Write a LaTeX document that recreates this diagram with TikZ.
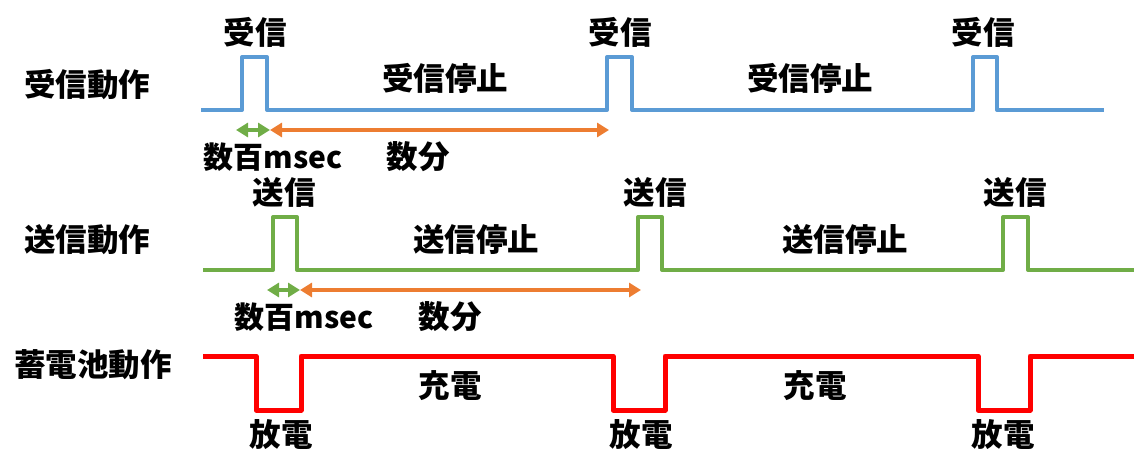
\documentclass[tikz,border=0pt]{standalone}
\usepackage{fontspec}
\setmainfont{Noto Sans CJK JP}
\usetikzlibrary{arrows.meta}
\definecolor{rxblue}{HTML}{5B9BD5}
\definecolor{txgreen}{HTML}{70AD47}
\definecolor{arrorange}{HTML}{ED7D31}
\definecolor{batred}{HTML}{FF0000}
\tikzset{
  lbl/.style={font=\fontsize{31.5}{34}\selectfont\bfseries, text=black, inner sep=0pt},
  msl/.style={lbl, font=\fontsize{30}{33}\selectfont\bfseries},
  wave/.style={line width=4pt, line join=round},
  dim/.style={line width=3.5pt, {Triangle[width=14pt,length=12pt]}-{Triangle[width=14pt,length=12pt]}},
}
\begin{document}
\begin{tikzpicture}[x=1pt,y=-1pt]
\useasboundingbox (0,0) rectangle (1134,449);
% waveforms
\draw[wave, rxblue] (201,110) -- (242,110) -- (242,57) -- (267,57) -- (267,110) -- (607,110) -- (607,57) -- (632,57) -- (632,110) -- (973,110) -- (973,57) -- (997,57) -- (997,110) -- (1104,110);
\draw[wave, txgreen] (203,270) -- (273,270) -- (273,217) -- (297,217) -- (297,270) -- (638,270) -- (638,217) -- (662,217) -- (662,270) -- (1003,270) -- (1003,217) -- (1028,217) -- (1028,270) -- (1134,270);
\draw[wave, batred, line width=5pt] (203,356) -- (256,356) -- (256,410) -- (301,410) -- (301,356) -- (613,356) -- (613,410) -- (665,410) -- (665,356) -- (978,356) -- (978,410) -- (1030,410) -- (1030,356) -- (1134,356);
% arrow end points
\coordinate (a1) at (236,130);
\coordinate (a2) at (270,130);
\coordinate (a3) at (609,130);
\coordinate (b1) at (267,290);
\coordinate (b2) at (300,290);
\coordinate (b3) at (641,290);
\draw[dim, txgreen] (a1) -- (a2);
\draw[dim, arrorange] (a2) -- (a3);
\draw[dim, txgreen] (b1) -- (b2);
\draw[dim, arrorange] (b2) -- (b3);
% labels
\node[lbl] (l1) at (87,85) {受信動作};
\node[lbl] (l2) at (87,240) {送信動作};
\node[lbl] (l3) at (93,365) {蓄電池動作};
\node[lbl] (r1) at (255,32) {受信};
\node[lbl] (r2) at (620,32) {受信};
\node[lbl] (r3) at (983,32) {受信};
\node[lbl] (rs1) at (445,78) {受信停止};
\node[lbl] (rs2) at (810,78) {受信停止};
\node[msl] (m1) at (273,157) {数百msec};
\node[lbl] (f1) at (418,157) {数分};
\node[lbl] (t1) at (284,192) {送信};
\node[lbl] (t2) at (655,192) {送信};
\node[lbl] (t3) at (1015,192) {送信};
\node[lbl] (ts1) at (476,240) {送信停止};
\node[lbl] (ts2) at (845,240) {送信停止};
\node[msl] (m2) at (304,317) {数百msec};
\node[lbl] (f2) at (450,317) {数分};
\node[lbl] (c1) at (450,386) {充電};
\node[lbl] (c2) at (815,386) {充電};
\node[lbl] (d1) at (281,435) {放電};
\node[lbl] (d2) at (641,435) {放電};
\node[lbl] (d3) at (1003,435) {放電};
\end{tikzpicture}
\end{document}
